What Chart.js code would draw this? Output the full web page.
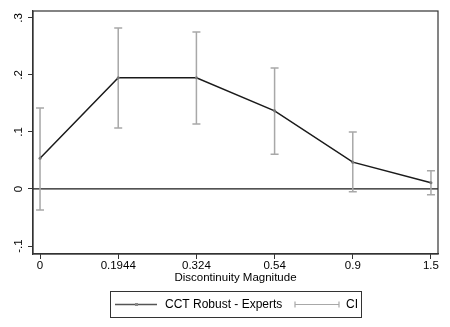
<!DOCTYPE html>
<html>
<head>
<meta charset="utf-8">
<script src="https://cdn.jsdelivr.net/npm/chart.js@4.4.1/dist/chart.umd.min.js"></script>
<style>
  html, body { margin: 0; padding: 0; background: #fff; }
  #wrap { width: 450px; height: 327px; }
</style>
</head>
<body>
<div id="wrap"><canvas id="c"></canvas></div>
<script>
// data
const categories = ['0', '0.1944', '0.324', '0.54', '0.9', '1.5'];
const estimates = [0.054, 0.195, 0.195, 0.137, 0.047, 0.011];
const ciHigh = [0.142, 0.282, 0.275, 0.212, 0.100, 0.032];
const ciLow = [-0.037, 0.107, 0.114, 0.061, -0.005, -0.010];
const yTicks = [-0.1, 0, 0.1, 0.2, 0.3];
const yTickLabels = ['-.1', '0', '.1', '.2', '.3'];

const FONT = '"Liberation Sans", Arial, sans-serif';
const LINE = '#1a1a1a';
const CI = '#a8a8a8';

const extras = {
    id: 'extras',
    beforeDatasetsDraw(chart) {
        const ctx = chart.ctx, x = chart.scales.x, y = chart.scales.y;
        const a = chart.chartArea;
        ctx.save();
        // zero line
        ctx.strokeStyle = LINE;
        ctx.lineWidth = 1.2;
        ctx.beginPath();
        ctx.moveTo(a.left, y.getPixelForValue(0));
        ctx.lineTo(a.right, y.getPixelForValue(0));
        ctx.stroke();
        // confidence intervals
        ctx.strokeStyle = CI;
        ctx.lineWidth = 1.5;
        categories.forEach((c, i) => {
            const px = x.getPixelForValue(i);
            const hi = y.getPixelForValue(ciHigh[i]);
            const lo = y.getPixelForValue(ciLow[i]);
            ctx.beginPath();
            ctx.moveTo(px, hi); ctx.lineTo(px, lo);
            ctx.moveTo(px - 4, hi); ctx.lineTo(px + 4, hi);
            ctx.moveTo(px - 4, lo); ctx.lineTo(px + 4, lo);
            ctx.stroke();
        });
        ctx.restore();
    },
    afterDraw(chart) {
        const ctx = chart.ctx, y = chart.scales.y;
        const a = chart.chartArea;
        ctx.save();
        // frame
        ctx.strokeStyle = '#333';
        ctx.lineWidth = 1.2;
        ctx.strokeRect(a.left, a.top, a.right - a.left, a.bottom - a.top);
        // rotated y tick labels
        ctx.fillStyle = '#000';
        ctx.font = '11.5px ' + FONT;
        ctx.textAlign = 'center';
        ctx.textBaseline = 'bottom';
        yTicks.forEach((v, i) => {
            ctx.save();
            ctx.translate(a.left - 8, y.getPixelForValue(v));
            ctx.rotate(-Math.PI / 2);
            ctx.fillText(yTickLabels[i], 0, 0);
            ctx.restore();
        });
        // x axis title
        ctx.font = '11.5px ' + FONT;
        ctx.textBaseline = 'middle';
        ctx.fillText('Discontinuity Magnitude', (a.left + a.right) / 2, 278);
        // legend
        const lx = 110, ly = 291, lw = 251, lh = 26;
        ctx.strokeStyle = '#333';
        ctx.lineWidth = 1;
        ctx.strokeRect(lx + 0.5, ly + 0.5, lw, lh);
        const my = ly + lh / 2 + 0.5;
        ctx.strokeStyle = '#555';
        ctx.lineWidth = 1.5;
        ctx.beginPath();
        ctx.moveTo(lx + 5, my); ctx.lineTo(lx + 47, my);
        ctx.stroke();
        ctx.fillStyle = '#888';
        ctx.fillRect(lx + 25, my - 1.5, 3, 3);
        ctx.strokeStyle = CI;
        ctx.lineWidth = 1.2;
        ctx.beginPath();
        ctx.moveTo(lx + 185, my); ctx.lineTo(lx + 229, my);
        ctx.moveTo(lx + 185, my - 3); ctx.lineTo(lx + 185, my + 3);
        ctx.moveTo(lx + 229, my - 3); ctx.lineTo(lx + 229, my + 3);
        ctx.stroke();
        ctx.fillStyle = '#000';
        ctx.font = '12px ' + FONT;
        ctx.textAlign = 'left';
        ctx.textBaseline = 'middle';
        ctx.fillText('CCT Robust - Experts', lx + 55, my);
        ctx.fillText('CI', lx + 236, my);
        ctx.restore();
    }
};

new Chart(document.getElementById('c'), {
    type: 'line',
    data: {
        datasets: [{
            label: 'CCT Robust - Experts',
            data: estimates.map((v, i) => ({ x: i, y: v })),
            borderColor: LINE,
            borderWidth: 1.5,
            pointRadius: 1.5,
            pointBackgroundColor: '#777',
            pointBorderWidth: 0,
            tension: 0
        }]
    },
    options: {
        responsive: true,
        maintainAspectRatio: false,
        animation: false,
        layout: { padding: { top: 11, right: 12, left: 0, bottom: 0 } },
        plugins: { legend: { display: false }, tooltip: { enabled: false } },
        scales: {
            x: {
                type: 'linear',
                min: -0.09,
                max: 5.09,
                afterBuildTicks: s => { s.ticks = categories.map((c, i) => ({ value: i })); },
                afterFit: s => { s.height = 73; },
                ticks: {
                    callback: v => categories[v],
                    color: '#000',
                    font: { family: FONT, size: 11.5 },
                    padding: 0,
                    maxRotation: 0
                },
                grid: { drawOnChartArea: false, tickLength: 5, color: '#333' },
                border: { color: '#333', width: 1.2 }
            },
            y: {
                min: -0.114,
                max: 0.312,
                afterBuildTicks: s => { s.ticks = yTicks.map(v => ({ value: v })); },
                afterFit: s => { s.width = 33; },
                ticks: { display: false },
                grid: { drawOnChartArea: false, tickLength: 5, color: '#333' },
                border: { color: '#333', width: 1.2 }
            }
        }
    },
    plugins: [extras]
});
</script>
</body>
</html>
